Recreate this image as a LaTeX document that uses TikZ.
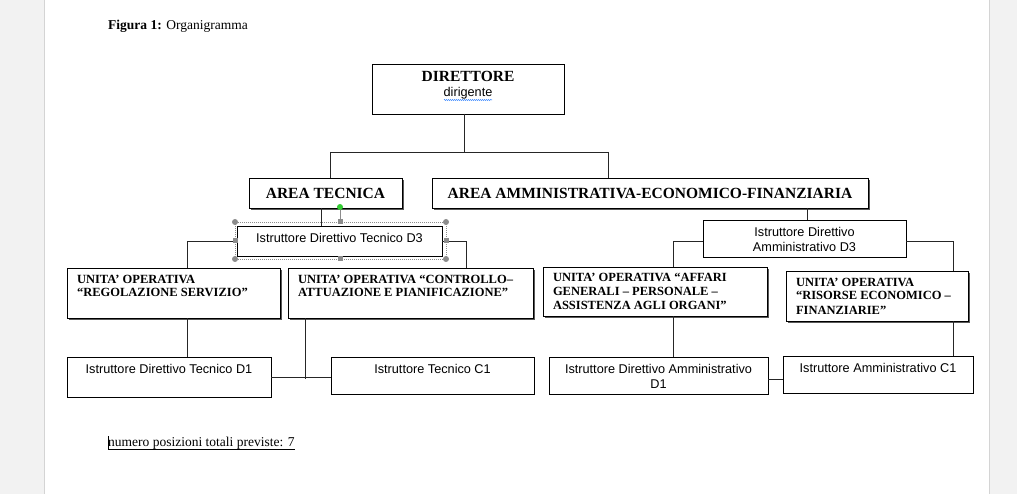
\documentclass[tikz,border=0pt]{standalone}
\usepackage{fontspec}
\setmainfont{Liberation Serif}
\setsansfont{Liberation Sans}
\usetikzlibrary{shadows,decorations.pathmorphing}
\definecolor{pagegrey}{HTML}{F2F2F2}
\definecolor{edgegrey}{HTML}{D4D4D4}
\definecolor{handlegrey}{HTML}{8C8C8C}
\definecolor{selgreen}{HTML}{33CC33}
\newcommand{\utext}[3]{\parbox[c][#2][t]{#1}{\raggedright\fontsize{12.5}{14}\selectfont\bfseries\rule{0pt}{15pt}#3}}
\newcommand{\itext}[3]{\parbox[c][#2][t]{#1}{\centering\sffamily\fontsize{12.7}{15}\selectfont\rule{0pt}{16.5pt}#3}}
\begin{document}
\begin{tikzpicture}[x=1pt,y=-1pt,
  box/.style={draw=black, line width=0.8pt, fill=white, inner sep=0pt, outer sep=0pt, anchor=north west},
  shbox/.style={box, drop shadow={shadow xshift=1.6pt, shadow yshift=-1.6pt, fill=black!65, opacity=1}},
  ubox/.style={shbox, inner xsep=10pt},
  conn/.style={draw=black!85, line width=0.8pt},
  handle/.style={fill=handlegrey}]
\useasboundingbox (0,0) rectangle (1017,494);
\fill[white] (0,0) rectangle (1017,494);
\fill[pagegrey] (0,0) rectangle (44,494);
\fill[pagegrey] (989,0) rectangle (1017,494);
\draw[edgegrey, line width=0.8pt] (44,0) -- (44,494);
\draw[edgegrey, line width=0.8pt] (989,0) -- (989,494);

% title
\node[anchor=base west, inner sep=0pt, font=\fontsize{13.5}{16}\selectfont] (fig) at (108,30) {\textbf{Figura 1:} Organigramma};

% boxes
\node[box] (dir) at (372,64) {\parbox[c][50pt][t]{192pt}{\centering\fontsize{12}{15}\selectfont\rule{0pt}{18pt}{\fontsize{15.5}{15}\selectfont\bfseries DIRETTORE}\\{\sffamily\fontsize{12.7}{15}\selectfont dirigente}}};
\node[shbox, minimum width=153pt, minimum height=30pt, font=\fontsize{15.5}{18}\selectfont\bfseries] (at) at (249,178) {AREA TECNICA};
\node[shbox, minimum width=436pt, minimum height=30pt, font=\fontsize{15.5}{18}\selectfont\bfseries] (aa) at (432,178) {AREA AMMINISTRATIVA-ECONOMICO-FINANZIARIA};

\node[box] (d3t) at (237,226) {\itext{205pt}{30pt}{Istruttore Direttivo Tecnico D3}};
\node[ubox] (reg) at (67,268) {\utext{193pt}{50pt}{UNITA’ OPERATIVA\\“REGOLAZIONE SERVIZIO”}};
\node[ubox] (con) at (288,268) {\utext{225pt}{50pt}{UNITA’ OPERATIVA “CONTROLLO–\\ATTUAZIONE E PIANIFICAZIONE”}};
\node[box] (d1t) at (67,357) {\itext{204pt}{40pt}{Istruttore Direttivo Tecnico D1}};
\node[box] (c1t) at (331,357) {\itext{203pt}{37pt}{Istruttore Tecnico C1}};

\node[box] (d3a) at (703,220) {\itext{203pt}{37pt}{Istruttore Direttivo\\Amministrativo D3}};
\node[ubox] (aff) at (543,267) {\utext{204pt}{49pt}{UNITA’ OPERATIVA “AFFARI\\GENERALI – PERSONALE –\\ASSISTENZA AGLI ORGANI"}};
\node[ubox] (ris) at (786,271) {\utext{162pt}{50pt}{UNITA’ OPERATIVA\\“RISORSE ECONOMICO –\\FINANZIARIE"}};
\node[box] (d1a) at (549,357) {\itext{219pt}{37pt}{Istruttore Direttivo Amministrativo\\D1}};
\node[box] (c1a) at (783,356) {\itext{190pt}{37pt}{Istruttore Amministrativo C1}};

% spell-check underline
\draw[blue!60!cyan, line width=0.5pt, decorate, decoration={snake, amplitude=0.5pt, segment length=2pt}]
  ([shift={(-24,36)}]dir.north) -- ([shift={(24,36)}]dir.north);

% connectors
\coordinate (jL) at (330,152);
\coordinate (jR) at (608,152);
\coordinate (xd) at (464,0);
\draw[conn] (dir.south -| xd) -- (xd |- jL);
\draw[conn] (jL) -- (jR);
\draw[conn] (jL) -- (jL |- at.north);
\draw[conn] (jR) -- (jR |- aa.north);

\coordinate (xa) at (321,0);
\coordinate (xl) at (187,0);
\coordinate (xr) at (466,0);
\coordinate (cb) at (305,379);
\draw[conn] (at.south -| xa) -- (d3t.north -| xa);
\draw[conn] (d3t.west) -| (reg.north -| xl);
\draw[conn] (d3t.east) -| (con.north -| xr);
\draw[conn] (reg.south -| xl) -- (d1t.north -| xl);
\draw[conn] (con.south -| cb) -- (cb);
\draw[conn] (d1t.east) -- (d1t.east -| c1t.west);

\coordinate (xm) at (807,0);
\coordinate (ya) at (0,241);
\coordinate (xaf) at (673,0);
\coordinate (xri) at (953,0);
\coordinate (yb) at (0,379);
\draw[conn] (aa.south -| xm) -- (d3a.north -| xm);
\draw[conn] (d3a.west |- ya) -| (aff.north -| xaf);
\draw[conn] (d3a.east |- ya) -| (ris.north -| xri);
\draw[conn] (aff.south -| xaf) -- (d1a.north -| xaf);
\draw[conn] (ris.south -| xri) -- (c1a.north -| xri);
\draw[conn] (d1a.east |- yb) -- (c1a.west |- yb);

% selection handles on D3 tecnico
\draw[handlegrey, line width=0.5pt, dash pattern=on 1pt off 1pt] (235,222) rectangle (446,259);
\draw[handlegrey, line width=0.6pt] (340,207) -- (340,220);
\fill[selgreen] (340,207) circle (3pt);
\foreach \p in {(235,222),(446,222),(235,259),(446,259)} \fill[handle] \p circle (3pt);
\foreach \p in {(340,222),(340,259),(235,241),(446,241)} \fill[handle] \p ++(-2.5,-2.5) rectangle ++(5,5);

% footer
\node[anchor=base west, inner sep=0pt, font=\fontsize{13.5}{16}\selectfont] (foot) at (108,446) {numero posizioni totali previste: 7};
\draw[line width=0.6pt] ([yshift=-3pt]foot.base west) -- ([yshift=-3pt]foot.base east);
\draw[line width=0.8pt] ([yshift=-3pt]foot.base west) -- ([yshift=10pt]foot.base west);
\end{tikzpicture}
\end{document}
